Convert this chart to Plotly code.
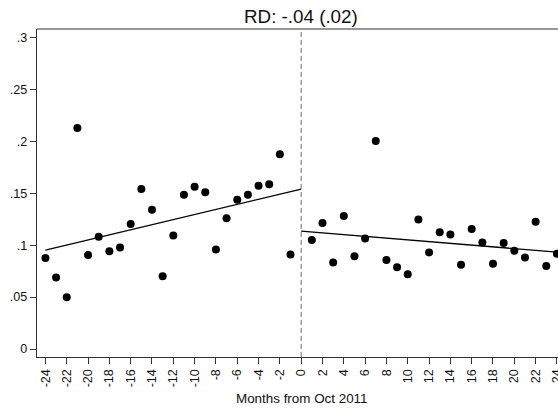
import plotly.graph_objects as go

months_pre = list(range(-24, 0))
share_pre = [0.0875, 0.0689, 0.0499, 0.2129, 0.0904, 0.108, 0.094, 0.0978, 0.1203, 0.154,
             0.134, 0.0701, 0.1094, 0.1486, 0.1563, 0.1509, 0.0959, 0.1258, 0.1437, 0.1486,
             0.1573, 0.1586, 0.1875, 0.091]
months_post = list(range(1, 25))
share_post = [0.1049, 0.1213, 0.0833, 0.128, 0.0894, 0.1065, 0.2003, 0.0856, 0.0788, 0.072,
              0.1248, 0.093, 0.1123, 0.1103, 0.081, 0.1155, 0.1026, 0.082, 0.102, 0.0946,
              0.0882, 0.1225, 0.0798, 0.0917]
fit_pre_x = [-24, 0]
fit_pre_y = [0.0952, 0.154]
fit_post_x = [0, 24]
fit_post_y = [0.1135, 0.0933]
xticks = list(range(-24, 25, 2))
yticks = [0, 0.05, 0.1, 0.15, 0.2, 0.25, 0.3]
ytick_labels = ["0", ".05", ".1", ".15", ".2", ".25", ".3"]
title_text = "RD: -.04 (.02)"
xtitle = "Months from Oct 2011"

FONT = "Arial, Liberation Sans, sans-serif"
fig = go.Figure()
fig.add_trace(go.Scatter(x=months_pre + months_post, y=share_pre + share_post, mode="markers",
                         marker=dict(color="black", size=8), showlegend=False, cliponaxis=False))
fig.add_trace(go.Scatter(x=fit_pre_x, y=fit_pre_y, mode="lines",
                         line=dict(color="black", width=1.3), showlegend=False))
fig.add_trace(go.Scatter(x=fit_post_x, y=fit_post_y, mode="lines",
                         line=dict(color="black", width=1.3), showlegend=False))
fig.add_shape(type="line", x0=0, x1=0, xref="x", y0=0, y1=1, yref="paper",
              line=dict(color="#888888", width=1.2, dash="5px,3px"))
fig.add_shape(type="line", x0=0, x1=1, xref="paper", y0=1, y1=1, yref="paper",
              line=dict(color="#333", width=1.2))

fig.add_annotation(text=title_text, x=0, xref="x", y=1.039, yref="paper",
                   showarrow=False, font=dict(family=FONT, size=18.8, color="#111"),
                   xanchor="center", yanchor="middle")
fig.add_annotation(text=xtitle, x=0, xref="x", y=-0.126, yref="paper",
                   showarrow=False, font=dict(family=FONT, size=13.4, color="#111"),
                   xanchor="center", yanchor="middle")

fig.update_layout(
    width=558, height=408,
    margin=dict(l=37, r=0, t=29, b=51, autoexpand=False),
    paper_bgcolor="white", plot_bgcolor="white",
    font=dict(family=FONT, size=12, color="#111"),
)
fig.update_xaxes(range=[-24.79, 24.1], tickmode="array", tickvals=xticks,
                 ticktext=[str(v) for v in xticks], tickangle=-90, automargin=False,
                 ticklabeloverflow="allow",
                 ticks="outside", ticklen=6, tickcolor="#333", tickwidth=1,
                 showline=True, linecolor="#333", linewidth=1.2,
                 showgrid=False, zeroline=False, tickfont=dict(size=12.6))
fig.update_yaxes(range=[-0.0077, 0.3081], tickmode="array", tickvals=yticks,
                 ticktext=ytick_labels, ticks="outside", ticklen=6, tickcolor="#333",
                 automargin=False,
                 showline=True, linecolor="#333", linewidth=1.2, mirror=False,
                 showgrid=False, zeroline=False, tickfont=dict(size=12.6))
fig.write_html("out.html", config={"displayModeBar": False},
               post_script="document.body.style.margin='0';document.body.style.overflow='hidden';")
